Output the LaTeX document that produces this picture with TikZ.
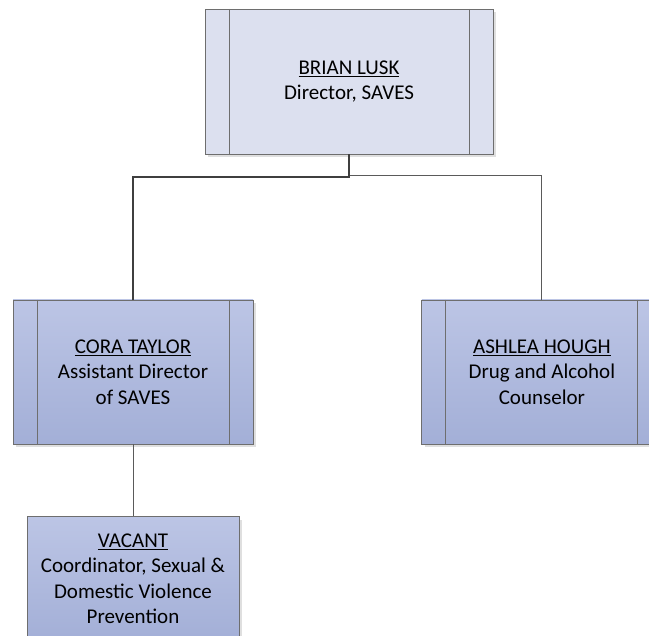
\documentclass[tikz,border=0pt]{standalone}
\usepackage{fontspec}
\setmainfont{Carlito}
\usetikzlibrary{positioning,shadows}
\definecolor{boxline}{HTML}{6E6E6E}
\definecolor{topfill}{HTML}{DCE0EF}
\definecolor{lowtop}{HTML}{BCC5E5}
\definecolor{lowbot}{HTML}{A3AFD7}
\definecolor{wire}{HTML}{5A5A5A}

\begin{document}
\begin{tikzpicture}[x=1pt, y=1pt,
    person/.style={draw=boxline, line width=0.9pt, minimum width=240pt, minimum height=144pt,
      align=center, font=\fontsize{21}{25.5}\selectfont, inner sep=0pt,
      drop shadow={shadow xshift=3pt, shadow yshift=-3pt, opacity=0.25, fill=gray}},
    sidebars/.style={path picture={
      \draw[boxline, line width=0.9pt] ([xshift=24pt]path picture bounding box.north west) -- ([xshift=24pt]path picture bounding box.south west);
      \draw[boxline, line width=0.9pt] ([xshift=-24pt]path picture bounding box.north east) -- ([xshift=-24pt]path picture bounding box.south east);}},
    lower/.style={person, top color=lowtop, bottom color=lowbot},
    wire/.style={draw=wire, line width=0.9pt},
    mainwire/.style={draw=wire!70!black, line width=2pt}]
  \useasboundingbox (0,0) rectangle (649,636);
  \node[person, sidebars, fill=topfill, minimum width=288pt, minimum height=145pt] (brian) at (349,554.5) {\underline{BRIAN LUSK}\\Director, SAVES};
  \node[lower, sidebars] (cora) at (133,264) {\underline{CORA TAYLOR}\\Assistant Director\\of SAVES};
  \node[lower, sidebars, right=168pt of cora] (ashlea) {\underline{ASHLEA HOUGH}\\Drug and Alcohol\\Counselor};
  \node[lower, minimum width=212pt, minimum height=124pt, below=72pt of cora] (vacant) {\underline{VACANT}\\Coordinator, Sexual \&\\Domestic Violence\\Prevention};
  % reporting lines
  \draw[wire] ([yshift=-21pt]brian.south) -| (ashlea.north);
  \draw[mainwire] (brian.south) -- ++(0,-23) -| (cora.north);
  \draw[wire] (cora.south) -- (vacant.north);
\end{tikzpicture}
\end{document}
